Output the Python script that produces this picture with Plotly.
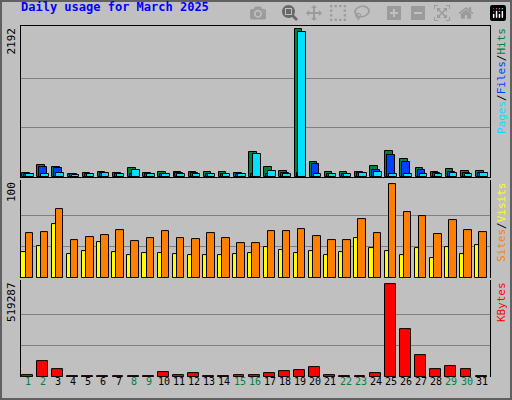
import plotly.graph_objects as go

days = list(range(1, 32))
hits = [64,183,153,50,64,79,64,139,64,79,79,79,79,79,64,376,153,94,2192,228,79,79,79,168,391,272,139,79,124,94,94]
files = [50,153,134,40,50,64,50,50,50,50,64,64,50,50,50,50,50,64,64,198,50,50,64,109,332,228,109,64,79,64,64]
pages = [40,50,64,35,50,64,50,109,50,50,50,40,50,40,40,347,94,50,2143,40,40,50,64,79,50,40,50,40,64,40,64]
sites = [28,34,57,25,29,38,28,24,27,27,25,24,24,24,25,26,33,30,26,29,24,28,42,32,29,24,32,21,33,25,35]
visits = [48,49,73,40,43,46,51,39,42,50,42,41,48,42,37,37,50,50,52,45,40,40,63,48,100,70,66,47,62,51,49]
kbytes = [13000,87000,42000,7000,7000,7000,7000,7000,7000,25000,13000,19000,5000,5000,13000,13000,19000,30000,36000,53000,13000,6000,6000,19000,519287,269000,121000,42000,59000,42000,6000]
weekend = [1,2,8,9,15,16,22,23,29,30]

BG = "#C0C0C0"
line = dict(color="black", width=1)
fig = go.Figure()
fig.add_bar(x=days, y=hits, offset=-0.42, width=0.5, marker=dict(color="#008040", line=line), yaxis="y")
fig.add_bar(x=days, y=files, offset=-0.29, width=0.5, marker=dict(color="#0040FF", line=line), yaxis="y")
fig.add_bar(x=days, y=pages, offset=-0.16, width=0.5, marker=dict(color="#00E0FF", line=line), yaxis="y")
fig.add_bar(x=days, y=sites, offset=-0.47, width=0.27, marker=dict(color="#FFFF00", line=line), yaxis="y2")
fig.add_bar(x=days, y=visits, offset=-0.2, width=0.5, marker=dict(color="#FF8000", line=line), yaxis="y2")
fig.add_bar(x=days, y=kbytes, offset=-0.45, width=0.72, marker=dict(color="#FF0000", line=line), yaxis="y3")

def yax(dom, mx, rng):
    return dict(domain=dom, range=[0, rng], tickvals=[mx/3, 2*mx/3], showticklabels=False,
                gridcolor="#808080", gridwidth=1, zeroline=False, showline=True, linecolor="black",
                mirror=True, ticks="", fixedrange=True)

fig.update_layout(
    width=512, height=400, margin=dict(l=21, r=22, t=26, b=23),
    paper_bgcolor=BG, plot_bgcolor=BG, barmode="overlay", showlegend=False, bargap=0,
    xaxis=dict(range=[0.5, 31.5], showticklabels=False, showgrid=False, zeroline=False,
               showline=True, linecolor="black", mirror=True, ticks=""),
    yaxis=yax([0.570, 1], 2192, 2237),
    yaxis2=yax([0.282, 0.561], 100, 104),
    yaxis3=yax([0, 0.276], 519287, 540000),
    font=dict(family="DejaVu Sans Mono", size=11, color="black"),
)
ann = []
ann.append(dict(text="<b>Daily usage for March 2025</b>", x=-0.004, y=1.0, xref="paper", yref="paper",
                yshift=10, xanchor="left", yanchor="bottom", showarrow=False,
                font=dict(size=12, color="#0000FF")))
for d in days:
    ann.append(dict(text=str(d), x=d - 0.05, y=0, xref="x", yref="paper", yshift=-12, showarrow=False,
                    font=dict(size=10, color="#008040" if d in weekend else "black")))
for txt, yy in [("2192", 1.0), ("100", 0.561), ("519287", 0.276)]:
    ann.append(dict(text=txt, x=0, y=yy, xref="paper", yref="paper", xshift=-10, textangle=-90,
                    xanchor="center", yanchor="top", showarrow=False, font=dict(size=11)))
right = [
    ("<span style='color:#00E0FF'>Pages</span>/<span style='color:#0040FF'>Files</span>/<span style='color:#008040'>Hits</span>", 1.0),
    ("<span style='color:#FF8000'>Sites</span>/<span style='color:#FFFF00'>Visits</span>", 0.561),
    ("<span style='color:#FF0000'>KBytes</span>", 0.276),
]
for txt, yy in right:
    ann.append(dict(text=txt, x=1, y=yy, xref="paper", yref="paper", xshift=11, textangle=-90,
                    xanchor="center", yanchor="top", showarrow=False, font=dict(size=11, color="black")))
fig.update_layout(annotations=ann)
fig.update_layout(shapes=[
    dict(type="rect", xref="paper", yref="paper", x0=-20/469, x1=1+21/469, y0=-22/351, y1=1+25/351,
         line=dict(color="#606060", width=2)),
])
fig.write_html("out.html", post_script="document.body.style.margin='0';document.body.style.overflow='hidden';")
